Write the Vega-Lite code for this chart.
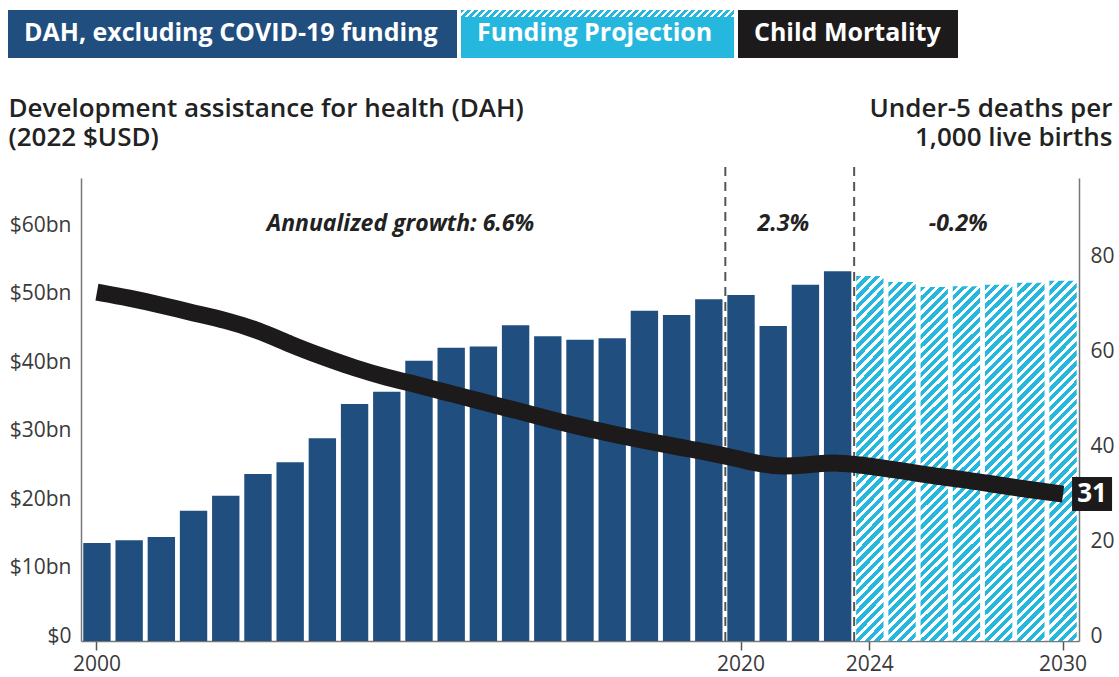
{
  "$schema": "https://vega.github.io/schema/vega-lite/v6.json",
  "width": 998,
  "height": 463,
  "autosize": {"type": "none"},
  "padding": {"left": 81, "top": 178, "right": 40, "bottom": 36},
  "background": "white",
  "config": {"view": {"stroke": null}, "font": "Open Sans"},
  "datasets": {
    "dah": [
      {"year": 2000, "dah": 14.3, "u5": 73.6},
      {"year": 2001, "dah": 14.7, "u5": 72.4},
      {"year": 2002, "dah": 15.2, "u5": 70.9},
      {"year": 2003, "dah": 19.0, "u5": 69.2},
      {"year": 2004, "dah": 21.2, "u5": 67.7},
      {"year": 2005, "dah": 24.4, "u5": 65.6},
      {"year": 2006, "dah": 26.1, "u5": 62.6},
      {"year": 2007, "dah": 29.6, "u5": 60.0},
      {"year": 2008, "dah": 34.6, "u5": 57.6},
      {"year": 2009, "dah": 36.4, "u5": 55.6},
      {"year": 2010, "dah": 40.9, "u5": 54.0},
      {"year": 2011, "dah": 42.8, "u5": 52.2},
      {"year": 2012, "dah": 43.0, "u5": 50.4},
      {"year": 2013, "dah": 46.1, "u5": 48.7},
      {"year": 2014, "dah": 44.5, "u5": 46.9},
      {"year": 2015, "dah": 44.0, "u5": 45.2},
      {"year": 2016, "dah": 44.2, "u5": 43.7},
      {"year": 2017, "dah": 48.2, "u5": 42.3},
      {"year": 2018, "dah": 47.6, "u5": 41.0},
      {"year": 2019, "dah": 49.9, "u5": 39.8},
      {"year": 2020, "dah": 50.5, "u5": 38.3},
      {"year": 2021, "dah": 46.0, "u5": 36.7},
      {"year": 2022, "dah": 52.0, "u5": 37.1},
      {"year": 2023, "dah": 54.0, "u5": 37.8},
      {"year": 2024, "dah": 53.3, "u5": 36.9},
      {"year": 2025, "dah": 52.4, "u5": 35.9},
      {"year": 2026, "dah": 51.7, "u5": 34.8},
      {"year": 2027, "dah": 51.8, "u5": 34.0},
      {"year": 2028, "dah": 52.0, "u5": 32.9},
      {"year": 2029, "dah": 52.3, "u5": 31.9},
      {"year": 2030, "dah": 52.6, "u5": 31.0}
    ]
  },
  "layer": [
    {
      "data": {"values": [
        {"item": "DAH, excluding COVID-19 funding", "w": 453, "o": 1, "c": "#1f4e7f"},
        {"item": "Funding Projection", "w": 277, "o": 2, "c": "#26b7de"},
        {"item": "Child Mortality", "w": 224, "o": 3, "c": "#1c1a1a"}
      ]},
      "transform": [{"stack": "w", "groupby": [], "sort": [{"field": "o", "order": "ascending"}], "as": ["x0", "x1"]}],
      "layer": [
        {
          "mark": {"type": "rect", "x2Offset": -4},
          "encoding": {
            "x": {"field": "x0", "type": "quantitative", "scale": {"domain": [73, 1071], "nice": false, "zero": false}, "axis": null},
            "x2": {"field": "x1"},
            "y": {"datum": 136.3, "type": "quantitative", "scale": {"domain": [0, 100], "nice": false, "zero": false}, "axis": null},
            "y2": {"datum": 125.9},
            "fill": {"field": "c", "type": "nominal", "scale": null}
          }
        },
        {
          "transform": [{"filter": "datum.o == 2"}],
          "mark": {"type": "rect", "x2Offset": -4, "fill": {"gradient": "linear", "x1": 0, "y1": 0, "x2": 1.025, "y2": 0.0263, "stops": [
            {"offset": 0, "color": "#26b7de"}, {"offset": 0.014, "color": "#26b7de"}, {"offset": 0.014, "color": "#fff"}, {"offset": 0.025, "color": "#fff"},
            {"offset": 0.025, "color": "#26b7de"}, {"offset": 0.039, "color": "#26b7de"}, {"offset": 0.039, "color": "#fff"}, {"offset": 0.05, "color": "#fff"},
            {"offset": 0.05, "color": "#26b7de"}, {"offset": 0.064, "color": "#26b7de"}, {"offset": 0.064, "color": "#fff"}, {"offset": 0.075, "color": "#fff"},
            {"offset": 0.075, "color": "#26b7de"}, {"offset": 0.089, "color": "#26b7de"}, {"offset": 0.089, "color": "#fff"}, {"offset": 0.1, "color": "#fff"},
            {"offset": 0.1, "color": "#26b7de"}, {"offset": 0.114, "color": "#26b7de"}, {"offset": 0.114, "color": "#fff"}, {"offset": 0.125, "color": "#fff"},
            {"offset": 0.125, "color": "#26b7de"}, {"offset": 0.139, "color": "#26b7de"}, {"offset": 0.139, "color": "#fff"}, {"offset": 0.15, "color": "#fff"},
            {"offset": 0.15, "color": "#26b7de"}, {"offset": 0.164, "color": "#26b7de"}, {"offset": 0.164, "color": "#fff"}, {"offset": 0.175, "color": "#fff"},
            {"offset": 0.175, "color": "#26b7de"}, {"offset": 0.189, "color": "#26b7de"}, {"offset": 0.189, "color": "#fff"}, {"offset": 0.2, "color": "#fff"},
            {"offset": 0.2, "color": "#26b7de"}, {"offset": 0.214, "color": "#26b7de"}, {"offset": 0.214, "color": "#fff"}, {"offset": 0.225, "color": "#fff"},
            {"offset": 0.225, "color": "#26b7de"}, {"offset": 0.239, "color": "#26b7de"}, {"offset": 0.239, "color": "#fff"}, {"offset": 0.25, "color": "#fff"},
            {"offset": 0.25, "color": "#26b7de"}, {"offset": 0.264, "color": "#26b7de"}, {"offset": 0.264, "color": "#fff"}, {"offset": 0.275, "color": "#fff"},
            {"offset": 0.275, "color": "#26b7de"}, {"offset": 0.289, "color": "#26b7de"}, {"offset": 0.289, "color": "#fff"}, {"offset": 0.3, "color": "#fff"},
            {"offset": 0.3, "color": "#26b7de"}, {"offset": 0.314, "color": "#26b7de"}, {"offset": 0.314, "color": "#fff"}, {"offset": 0.325, "color": "#fff"},
            {"offset": 0.325, "color": "#26b7de"}, {"offset": 0.339, "color": "#26b7de"}, {"offset": 0.339, "color": "#fff"}, {"offset": 0.35, "color": "#fff"},
            {"offset": 0.35, "color": "#26b7de"}, {"offset": 0.364, "color": "#26b7de"}, {"offset": 0.364, "color": "#fff"}, {"offset": 0.375, "color": "#fff"},
            {"offset": 0.375, "color": "#26b7de"}, {"offset": 0.389, "color": "#26b7de"}, {"offset": 0.389, "color": "#fff"}, {"offset": 0.4, "color": "#fff"},
            {"offset": 0.4, "color": "#26b7de"}, {"offset": 0.414, "color": "#26b7de"}, {"offset": 0.414, "color": "#fff"}, {"offset": 0.425, "color": "#fff"},
            {"offset": 0.425, "color": "#26b7de"}, {"offset": 0.439, "color": "#26b7de"}, {"offset": 0.439, "color": "#fff"}, {"offset": 0.45, "color": "#fff"},
            {"offset": 0.45, "color": "#26b7de"}, {"offset": 0.464, "color": "#26b7de"}, {"offset": 0.464, "color": "#fff"}, {"offset": 0.475, "color": "#fff"},
            {"offset": 0.475, "color": "#26b7de"}, {"offset": 0.489, "color": "#26b7de"}, {"offset": 0.489, "color": "#fff"}, {"offset": 0.5, "color": "#fff"},
            {"offset": 0.5, "color": "#26b7de"}, {"offset": 0.514, "color": "#26b7de"}, {"offset": 0.514, "color": "#fff"}, {"offset": 0.525, "color": "#fff"},
            {"offset": 0.525, "color": "#26b7de"}, {"offset": 0.539, "color": "#26b7de"}, {"offset": 0.539, "color": "#fff"}, {"offset": 0.55, "color": "#fff"},
            {"offset": 0.55, "color": "#26b7de"}, {"offset": 0.564, "color": "#26b7de"}, {"offset": 0.564, "color": "#fff"}, {"offset": 0.575, "color": "#fff"},
            {"offset": 0.575, "color": "#26b7de"}, {"offset": 0.589, "color": "#26b7de"}, {"offset": 0.589, "color": "#fff"}, {"offset": 0.6, "color": "#fff"},
            {"offset": 0.6, "color": "#26b7de"}, {"offset": 0.614, "color": "#26b7de"}, {"offset": 0.614, "color": "#fff"}, {"offset": 0.625, "color": "#fff"},
            {"offset": 0.625, "color": "#26b7de"}, {"offset": 0.639, "color": "#26b7de"}, {"offset": 0.639, "color": "#fff"}, {"offset": 0.65, "color": "#fff"},
            {"offset": 0.65, "color": "#26b7de"}, {"offset": 0.664, "color": "#26b7de"}, {"offset": 0.664, "color": "#fff"}, {"offset": 0.675, "color": "#fff"},
            {"offset": 0.675, "color": "#26b7de"}, {"offset": 0.689, "color": "#26b7de"}, {"offset": 0.689, "color": "#fff"}, {"offset": 0.7, "color": "#fff"},
            {"offset": 0.7, "color": "#26b7de"}, {"offset": 0.714, "color": "#26b7de"}, {"offset": 0.714, "color": "#fff"}, {"offset": 0.725, "color": "#fff"},
            {"offset": 0.725, "color": "#26b7de"}, {"offset": 0.739, "color": "#26b7de"}, {"offset": 0.739, "color": "#fff"}, {"offset": 0.75, "color": "#fff"},
            {"offset": 0.75, "color": "#26b7de"}, {"offset": 0.764, "color": "#26b7de"}, {"offset": 0.764, "color": "#fff"}, {"offset": 0.775, "color": "#fff"},
            {"offset": 0.775, "color": "#26b7de"}, {"offset": 0.789, "color": "#26b7de"}, {"offset": 0.789, "color": "#fff"}, {"offset": 0.8, "color": "#fff"},
            {"offset": 0.8, "color": "#26b7de"}, {"offset": 0.814, "color": "#26b7de"}, {"offset": 0.814, "color": "#fff"}, {"offset": 0.825, "color": "#fff"},
            {"offset": 0.825, "color": "#26b7de"}, {"offset": 0.839, "color": "#26b7de"}, {"offset": 0.839, "color": "#fff"}, {"offset": 0.85, "color": "#fff"},
            {"offset": 0.85, "color": "#26b7de"}, {"offset": 0.864, "color": "#26b7de"}, {"offset": 0.864, "color": "#fff"}, {"offset": 0.875, "color": "#fff"},
            {"offset": 0.875, "color": "#26b7de"}, {"offset": 0.889, "color": "#26b7de"}, {"offset": 0.889, "color": "#fff"}, {"offset": 0.9, "color": "#fff"},
            {"offset": 0.9, "color": "#26b7de"}, {"offset": 0.914, "color": "#26b7de"}, {"offset": 0.914, "color": "#fff"}, {"offset": 0.925, "color": "#fff"},
            {"offset": 0.925, "color": "#26b7de"}, {"offset": 0.939, "color": "#26b7de"}, {"offset": 0.939, "color": "#fff"}, {"offset": 0.95, "color": "#fff"},
            {"offset": 0.95, "color": "#26b7de"}, {"offset": 0.964, "color": "#26b7de"}, {"offset": 0.964, "color": "#fff"}, {"offset": 0.975, "color": "#fff"},
            {"offset": 0.975, "color": "#26b7de"}, {"offset": 0.989, "color": "#26b7de"}, {"offset": 0.989, "color": "#fff"}, {"offset": 1, "color": "#fff"}
          ]}},
          "encoding": {
            "x": {"field": "x0", "type": "quantitative"},
            "x2": {"field": "x1"},
            "y": {"datum": 136.3, "type": "quantitative"},
            "y2": {"datum": 134.8}
          }
        },
        {
          "mark": {"type": "text", "align": "left", "baseline": "middle", "dx": 16, "color": "#ffffff", "font": "Open Sans", "fontWeight": "bold", "fontSize": 25},
          "encoding": {
            "x": {"field": "x0", "type": "quantitative"},
            "y": {"datum": 131.3, "type": "quantitative"},
            "text": {"field": "item"}
          }
        }
      ]
    },
    {
      "data": {"name": "dah"},
      "layer": [
        {
          "layer": [
            {
              "transform": [{"filter": "datum.year <= 2023"}],
              "mark": {"type": "bar", "fill": "#1f4e7f"},
              "encoding": {
                "x": {
                  "field": "year", "type": "ordinal",
                  "scale": {"type": "band", "paddingInner": 0.15, "paddingOuter": 0.07},
                  "axis": {"orient": "bottom", "values": [2000, 2020, 2024, 2030], "title": null, "labelAngle": 0, "tickSize": 9, "tickWidth": 1.5, "tickColor": "#555", "domainColor": "#777", "domainWidth": 1.5, "labelFontSize": 21, "labelPadding": 3, "labelColor": "#3a3a3a", "labelFont": "Open Sans", "grid": false}
                },
                "y": {
                  "field": "dah", "type": "quantitative",
                  "scale": {"domain": [0, 67.6], "nice": false},
                  "axis": {
                    "orient": "left", "values": [0, 10, 20, 30, 40, 50, 60],
                    "labelExpr": "datum.value == 0 ? '$0' : '$' + datum.value + 'bn'",
                    "ticks": false, "tickSize": 0, "grid": false, "labelPadding": 10, "labelOffset": -5,
                    "labelFontSize": 21, "labelColor": "#3a3a3a", "labelFont": "Open Sans",
                    "domainColor": "#777", "domainWidth": 1.5,
                    "title": ["Development assistance for health (DAH)", "(2022 $USD)"],
                    "titleAngle": 0, "titleAlign": "left", "titleBaseline": "top",
                    "titleX": -73, "titleY": -83, "titleFontSize": 26, "titleFontWeight": 600,
                    "titleFont": "Open Sans", "titleColor": "#222", "titleLineHeight": 29
                  }
                }
              }
            },
            {
              "transform": [{"filter": "datum.year >= 2024"}],
              "mark": {"type": "bar", "fill": {"gradient": "linear", "x1": 0, "y1": 0, "x2": 0.0817, "y2": 1.07, "stops": [
                {"offset": 0, "color": "#26b7de"}, {"offset": 0.014, "color": "#26b7de"}, {"offset": 0.014, "color": "#fff"}, {"offset": 0.025, "color": "#fff"},
                {"offset": 0.025, "color": "#26b7de"}, {"offset": 0.039, "color": "#26b7de"}, {"offset": 0.039, "color": "#fff"}, {"offset": 0.05, "color": "#fff"},
                {"offset": 0.05, "color": "#26b7de"}, {"offset": 0.064, "color": "#26b7de"}, {"offset": 0.064, "color": "#fff"}, {"offset": 0.075, "color": "#fff"},
                {"offset": 0.075, "color": "#26b7de"}, {"offset": 0.089, "color": "#26b7de"}, {"offset": 0.089, "color": "#fff"}, {"offset": 0.1, "color": "#fff"},
                {"offset": 0.1, "color": "#26b7de"}, {"offset": 0.114, "color": "#26b7de"}, {"offset": 0.114, "color": "#fff"}, {"offset": 0.125, "color": "#fff"},
                {"offset": 0.125, "color": "#26b7de"}, {"offset": 0.139, "color": "#26b7de"}, {"offset": 0.139, "color": "#fff"}, {"offset": 0.15, "color": "#fff"},
                {"offset": 0.15, "color": "#26b7de"}, {"offset": 0.164, "color": "#26b7de"}, {"offset": 0.164, "color": "#fff"}, {"offset": 0.175, "color": "#fff"},
                {"offset": 0.175, "color": "#26b7de"}, {"offset": 0.189, "color": "#26b7de"}, {"offset": 0.189, "color": "#fff"}, {"offset": 0.2, "color": "#fff"},
                {"offset": 0.2, "color": "#26b7de"}, {"offset": 0.214, "color": "#26b7de"}, {"offset": 0.214, "color": "#fff"}, {"offset": 0.225, "color": "#fff"},
                {"offset": 0.225, "color": "#26b7de"}, {"offset": 0.239, "color": "#26b7de"}, {"offset": 0.239, "color": "#fff"}, {"offset": 0.25, "color": "#fff"},
                {"offset": 0.25, "color": "#26b7de"}, {"offset": 0.264, "color": "#26b7de"}, {"offset": 0.264, "color": "#fff"}, {"offset": 0.275, "color": "#fff"},
                {"offset": 0.275, "color": "#26b7de"}, {"offset": 0.289, "color": "#26b7de"}, {"offset": 0.289, "color": "#fff"}, {"offset": 0.3, "color": "#fff"},
                {"offset": 0.3, "color": "#26b7de"}, {"offset": 0.314, "color": "#26b7de"}, {"offset": 0.314, "color": "#fff"}, {"offset": 0.325, "color": "#fff"},
                {"offset": 0.325, "color": "#26b7de"}, {"offset": 0.339, "color": "#26b7de"}, {"offset": 0.339, "color": "#fff"}, {"offset": 0.35, "color": "#fff"},
                {"offset": 0.35, "color": "#26b7de"}, {"offset": 0.364, "color": "#26b7de"}, {"offset": 0.364, "color": "#fff"}, {"offset": 0.375, "color": "#fff"},
                {"offset": 0.375, "color": "#26b7de"}, {"offset": 0.389, "color": "#26b7de"}, {"offset": 0.389, "color": "#fff"}, {"offset": 0.4, "color": "#fff"},
                {"offset": 0.4, "color": "#26b7de"}, {"offset": 0.414, "color": "#26b7de"}, {"offset": 0.414, "color": "#fff"}, {"offset": 0.425, "color": "#fff"},
                {"offset": 0.425, "color": "#26b7de"}, {"offset": 0.439, "color": "#26b7de"}, {"offset": 0.439, "color": "#fff"}, {"offset": 0.45, "color": "#fff"},
                {"offset": 0.45, "color": "#26b7de"}, {"offset": 0.464, "color": "#26b7de"}, {"offset": 0.464, "color": "#fff"}, {"offset": 0.475, "color": "#fff"},
                {"offset": 0.475, "color": "#26b7de"}, {"offset": 0.489, "color": "#26b7de"}, {"offset": 0.489, "color": "#fff"}, {"offset": 0.5, "color": "#fff"},
                {"offset": 0.5, "color": "#26b7de"}, {"offset": 0.514, "color": "#26b7de"}, {"offset": 0.514, "color": "#fff"}, {"offset": 0.525, "color": "#fff"},
                {"offset": 0.525, "color": "#26b7de"}, {"offset": 0.539, "color": "#26b7de"}, {"offset": 0.539, "color": "#fff"}, {"offset": 0.55, "color": "#fff"},
                {"offset": 0.55, "color": "#26b7de"}, {"offset": 0.564, "color": "#26b7de"}, {"offset": 0.564, "color": "#fff"}, {"offset": 0.575, "color": "#fff"},
                {"offset": 0.575, "color": "#26b7de"}, {"offset": 0.589, "color": "#26b7de"}, {"offset": 0.589, "color": "#fff"}, {"offset": 0.6, "color": "#fff"},
                {"offset": 0.6, "color": "#26b7de"}, {"offset": 0.614, "color": "#26b7de"}, {"offset": 0.614, "color": "#fff"}, {"offset": 0.625, "color": "#fff"},
                {"offset": 0.625, "color": "#26b7de"}, {"offset": 0.639, "color": "#26b7de"}, {"offset": 0.639, "color": "#fff"}, {"offset": 0.65, "color": "#fff"},
                {"offset": 0.65, "color": "#26b7de"}, {"offset": 0.664, "color": "#26b7de"}, {"offset": 0.664, "color": "#fff"}, {"offset": 0.675, "color": "#fff"},
                {"offset": 0.675, "color": "#26b7de"}, {"offset": 0.689, "color": "#26b7de"}, {"offset": 0.689, "color": "#fff"}, {"offset": 0.7, "color": "#fff"},
                {"offset": 0.7, "color": "#26b7de"}, {"offset": 0.714, "color": "#26b7de"}, {"offset": 0.714, "color": "#fff"}, {"offset": 0.725, "color": "#fff"},
                {"offset": 0.725, "color": "#26b7de"}, {"offset": 0.739, "color": "#26b7de"}, {"offset": 0.739, "color": "#fff"}, {"offset": 0.75, "color": "#fff"},
                {"offset": 0.75, "color": "#26b7de"}, {"offset": 0.764, "color": "#26b7de"}, {"offset": 0.764, "color": "#fff"}, {"offset": 0.775, "color": "#fff"},
                {"offset": 0.775, "color": "#26b7de"}, {"offset": 0.789, "color": "#26b7de"}, {"offset": 0.789, "color": "#fff"}, {"offset": 0.8, "color": "#fff"},
                {"offset": 0.8, "color": "#26b7de"}, {"offset": 0.814, "color": "#26b7de"}, {"offset": 0.814, "color": "#fff"}, {"offset": 0.825, "color": "#fff"},
                {"offset": 0.825, "color": "#26b7de"}, {"offset": 0.839, "color": "#26b7de"}, {"offset": 0.839, "color": "#fff"}, {"offset": 0.85, "color": "#fff"},
                {"offset": 0.85, "color": "#26b7de"}, {"offset": 0.864, "color": "#26b7de"}, {"offset": 0.864, "color": "#fff"}, {"offset": 0.875, "color": "#fff"},
                {"offset": 0.875, "color": "#26b7de"}, {"offset": 0.889, "color": "#26b7de"}, {"offset": 0.889, "color": "#fff"}, {"offset": 0.9, "color": "#fff"},
                {"offset": 0.9, "color": "#26b7de"}, {"offset": 0.914, "color": "#26b7de"}, {"offset": 0.914, "color": "#fff"}, {"offset": 0.925, "color": "#fff"},
                {"offset": 0.925, "color": "#26b7de"}, {"offset": 0.939, "color": "#26b7de"}, {"offset": 0.939, "color": "#fff"}, {"offset": 0.95, "color": "#fff"},
                {"offset": 0.95, "color": "#26b7de"}, {"offset": 0.964, "color": "#26b7de"}, {"offset": 0.964, "color": "#fff"}, {"offset": 0.975, "color": "#fff"},
                {"offset": 0.975, "color": "#26b7de"}, {"offset": 0.989, "color": "#26b7de"}, {"offset": 0.989, "color": "#fff"}, {"offset": 1, "color": "#fff"}
              ]}},
              "encoding": {
                "x": {"field": "year", "type": "ordinal", "scale": {"type": "band"}},
                "y": {"field": "dah", "type": "quantitative"}
              }
            },
            {
              "data": {"values": [{"year": 2020}, {"year": 2024}]},
              "mark": {"type": "rule", "color": "#555555", "strokeWidth": 2, "strokeDash": [9, 6], "xOffset": -2},
              "encoding": {
                "x": {"field": "year", "type": "ordinal", "bandPosition": 0},
                "y": {"datum": 0, "type": "quantitative"},
                "y2": {"datum": 69.5}
              }
            },
            {
              "data": {"values": [{"year": 2009, "label": "Annualized growth: 6.6%"}]},
              "mark": {"type": "text", "font": "Open Sans", "fontStyle": "italic", "fontWeight": "bold", "fontSize": 23, "color": "#222", "baseline": "middle"},
              "encoding": {
                "x": {"field": "year", "type": "ordinal", "bandPosition": 1},
                "y": {"datum": 60.9, "type": "quantitative"},
                "text": {"field": "label"}
              }
            },
            {
              "data": {"values": [{"year": 2021, "label": "2.3%"}]},
              "mark": {"type": "text", "font": "Open Sans", "fontStyle": "italic", "fontWeight": "bold", "fontSize": 23, "color": "#222", "baseline": "middle"},
              "encoding": {
                "x": {"field": "year", "type": "ordinal", "bandPosition": 0.87},
                "y": {"datum": 60.9, "type": "quantitative"},
                "text": {"field": "label"}
              }
            },
            {
              "data": {"values": [{"year": 2027, "label": "-0.2%"}]},
              "mark": {"type": "text", "font": "Open Sans", "fontStyle": "italic", "fontWeight": "bold", "fontSize": 23, "color": "#222", "baseline": "middle"},
              "encoding": {
                "x": {"field": "year", "type": "ordinal", "bandPosition": 0.2},
                "y": {"datum": 60.9, "type": "quantitative"},
                "text": {"field": "label"}
              }
            }
          ]
        },
        {
          "layer": [
            {
              "mark": {"type": "line", "color": "#1c1a1a", "strokeWidth": 17, "strokeCap": "butt", "interpolate": "basis"},
              "encoding": {
                "x": {"field": "year", "type": "ordinal", "scale": {"type": "band"}},
                "y": {
                  "field": "u5", "type": "quantitative",
                  "scale": {"domain": [0, 97.7], "nice": false},
                  "axis": {
                    "orient": "right", "values": [0, 20, 40, 60, 80],
                    "ticks": false, "tickSize": 0, "grid": false, "labelPadding": 11, "labelOffset": -5,
                    "labelFontSize": 21, "labelColor": "#3a3a3a", "labelFont": "Open Sans",
                    "domainColor": "#777", "domainWidth": 1.5,
                    "title": ["Under-5 deaths per", "1,000 live births"],
                    "titleAngle": 0, "titleAlign": "right", "titleBaseline": "top",
                    "titleX": 33, "titleY": -83, "titleFontSize": 26, "titleFontWeight": 600,
                    "titleFont": "Open Sans", "titleColor": "#222", "titleLineHeight": 29
                  }
                }
              }
            },
            {
              "transform": [{"filter": "datum.year == 2030"}],
              "mark": {"type": "point", "filled": true, "opacity": 1, "fill": "#1c1a1a", "strokeWidth": 0, "size": 1600, "xOffset": 29, "shape": "M-1,-0.85L1,-0.85L1,0.85L-1,0.85Z"},
              "encoding": {
                "x": {"field": "year", "type": "ordinal"},
                "y": {"field": "u5", "type": "quantitative"}
              }
            },
            {
              "transform": [{"filter": "datum.year == 2030"}],
              "mark": {"type": "text", "xOffset": 29, "font": "Open Sans", "fontWeight": "bold", "fontSize": 26, "color": "#ffffff", "baseline": "middle", "align": "center"},
              "encoding": {
                "x": {"field": "year", "type": "ordinal"},
                "y": {"field": "u5", "type": "quantitative"},
                "text": {"field": "u5", "format": ".0f"}
              }
            }
          ]
        }
      ],
      "resolve": {"scale": {"y": "independent"}}
    }
  ],
  "resolve": {"scale": {"x": "independent", "y": "independent"}}
}
